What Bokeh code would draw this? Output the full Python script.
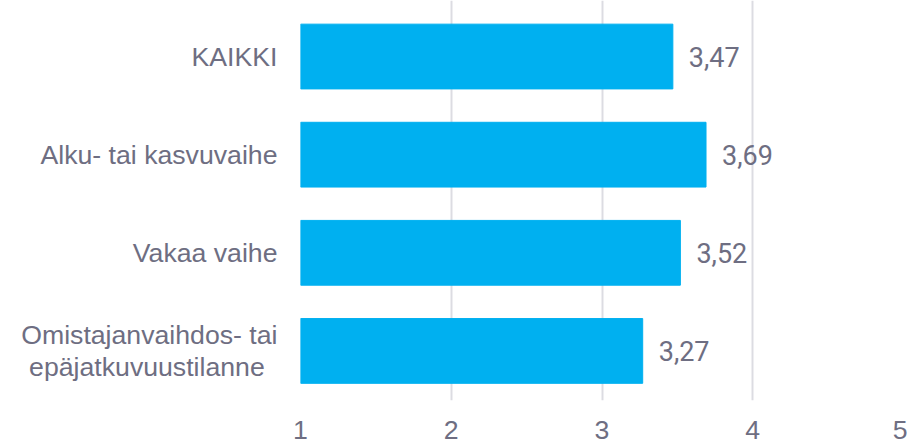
from bokeh.plotting import figure
from bokeh.models import ColumnDataSource, FixedTicker, Range1d
from bokeh.core.properties import value
from bokeh.embed import file_html
from bokeh.resources import INLINE

categories = ["KAIKKI", "Alku- tai kasvuvaihe", "Vakaa vaihe", "Omistajanvaihdos- tai\nepäjatkuvuustilanne\u00a0\u2009"]
values = [3.47, 3.69, 3.52, 3.27]
value_labels = ["3,47", "3,69", "3,52", "3,27"]
x_ticks = [1, 2, 3, 4, 5]

TEXT = "#6e6e82"
BAR = "#00b0f0"
GRID = "#dcdce2"

pos = list(range(len(categories)))
src = ColumnDataSource(dict(pos=pos, val=values, left=[x_ticks[0]] * len(values), lab=value_labels))

p = figure(width=907, height=443, output_backend="svg", toolbar_location=None,
           y_range=Range1d(start=len(categories) - 1 + 0.505, end=-0.571),
           x_range=Range1d(x_ticks[0], x_ticks[-1]),
           min_border_left=300, min_border_right=4, min_border_top=0, min_border_bottom=43)
p.outline_line_color = None
p.background_fill_color = "white"
p.border_fill_color = "white"

p.hbar(y="pos", left="left", right="val", height=0.66, color=BAR, source=src)
p.text(x="val", y="pos", text="lab", source=src, x_offset=16, text_align="left",
       text_baseline="middle", text_font=value("Roboto"), text_font_size="27px", text_color=TEXT)

p.xaxis.ticker = FixedTicker(ticks=x_ticks)
p.xaxis.axis_line_color = None
p.xaxis.major_tick_line_color = None
p.xaxis.minor_tick_line_color = None
p.xaxis.major_label_text_font = "Liberation Sans"
p.xaxis.major_label_text_font_size = "26.67px"
p.xaxis.major_label_text_color = TEXT
p.xaxis.major_label_standoff = 14

p.yaxis.ticker = FixedTicker(ticks=pos)
p.yaxis.major_label_overrides = {i: c for i, c in zip(pos, categories)}
p.yaxis.axis_line_color = None
p.yaxis.major_tick_line_color = None
p.yaxis.minor_tick_line_color = None
p.yaxis.major_tick_out = 0
p.yaxis.major_tick_in = 0
p.yaxis.major_label_text_font = "Liberation Sans"
p.yaxis.major_label_text_font_size = "26.67px"
p.yaxis.major_label_text_color = TEXT
p.yaxis.major_label_text_line_height = 1.05
p.yaxis.major_label_standoff = 23

p.xgrid.grid_line_color = GRID
p.xgrid.grid_line_width = 2
p.ygrid.grid_line_color = None

open("out.html", "w").write(file_html(p, INLINE))
